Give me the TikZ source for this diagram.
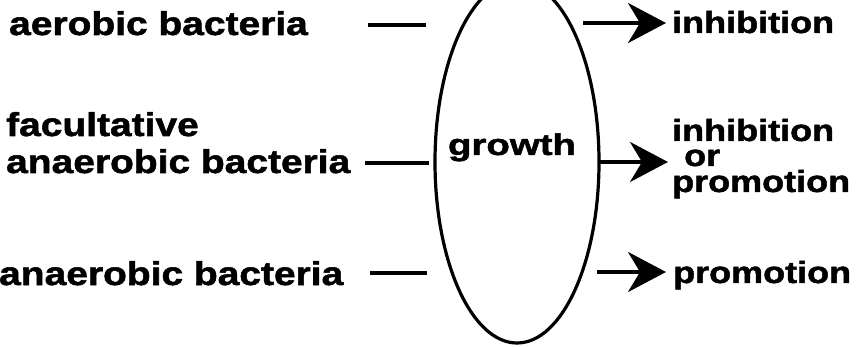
\documentclass[tikz,border=0pt]{standalone}
\usepackage{fontspec}
\usetikzlibrary{arrows.meta,shapes.geometric}
\newfontfamily\lblfont{Liberation Sans}[FakeStretch=1.18,FakeBold=1.6]
\newfontfamily\grfont{Liberation Sans}[FakeStretch=1.28,FakeBold=1.6]
\begin{document}
\begin{tikzpicture}[x=1pt,y=-1pt,
  lbl/.style={font=\lblfont\bfseries\fontsize{33}{37}\selectfont, anchor=base west, inner sep=0pt},
  rlbl/.style={font=\lblfont\bfseries\fontsize{30.5}{35}\selectfont, anchor=base west, inner sep=0pt},
  ln/.style={line width=3.2pt},
  arr/.style={line width=3.2pt, -{Stealth[length=38pt,width=40pt,inset=12pt]}},
  oval/.style={draw, ellipse, line width=3.2pt, inner sep=0pt, minimum width=164pt, minimum height=362pt}]
\useasboundingbox (0,0) rectangle (867,347);
\clip (0,0) rectangle (867,347);
\fill[white] (0,0) rectangle (867,347);
% left labels
\node[lbl] (aer) at (9,35) {aerobic bacteria};
\node[lbl] (fac) at (6,136) {facultative};
\node[lbl] (fan) at (6,173) {anaerobic bacteria};
\node[lbl] (ana) at (-1,285) {anaerobic bacteria};
% ellipse
\node[oval] (ell) at (517,162) {};
\node[font=\grfont\bfseries\fontsize{30}{34}\selectfont, anchor=base, inner sep=0pt] (gr) at (512,155) {growth};
% right labels
\node[rlbl] (inh) at (672,33) {inhibition};
\node[rlbl] (inh2) at (672,141) {inhibition};
\node[rlbl] (or) at (684,166) {or};
\node[rlbl] (pro2) at (672,192) {promotion};
\node[rlbl] (pro) at (673,283) {promotion};
% left lines
\coordinate (l1a) at (368,25); \coordinate (l1b) at (426,25);
\coordinate (l2a) at (365,163); \coordinate (l2b) at (429,163);
\coordinate (l3a) at (370,273); \coordinate (l3b) at (427,273);
\draw[ln] (l1a) -- (l1b);
\draw[ln] (l2a) -- (l2b);
\draw[ln] (l3a) -- (l3b);
% arrows
\coordinate (a1s) at (583,23); \coordinate (a1e) at (666,23);
\coordinate (a2s) at (599,162); \coordinate (a2e) at (668,162);
\coordinate (a3s) at (597,272); \coordinate (a3e) at (666,272);
\draw[arr] (a1s) -- (a1e);
\draw[arr] (a2s) -- (a2e);
\draw[arr] (a3s) -- (a3e);
\end{tikzpicture}
\end{document}
